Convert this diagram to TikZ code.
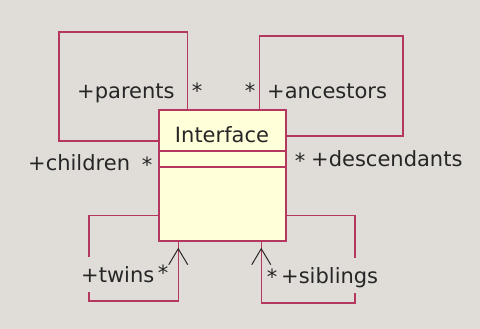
\documentclass[tikz,border=0pt]{standalone}
\usepackage{fontspec}
\setmainfont{DejaVu Sans}
\usetikzlibrary{arrows.meta,calc}
\definecolor{umlback}{RGB}{224,220,215}
\definecolor{umlline}{RGB}{180,55,95}
\definecolor{umlfill}{RGB}{255,255,218}
\definecolor{umlbarb}{RGB}{45,40,40}
\tikzstyle{every node}=[font=\fontsize{21}{25}\selectfont,text=black!85]

\begin{document}
\begin{tikzpicture}[x=1pt,y=-1pt,>={Straight Barb[length=16pt,width=19pt,color=umlbarb,line width=1pt]}]
\tikzset{assoc/.style={draw=umlline,line width=1.5pt},
  role/.style={fill=umlback,inner xsep=2pt,inner ysep=7pt,text height=18pt,text depth=3pt,anchor=base west},
  mult/.style={inner sep=0pt,anchor=base}}

\fill[umlback] (0,0) rectangle (480,329);
\useasboundingbox (0,0) rectangle (480,329);

\node[draw=umlline,fill=umlfill,line width=1.5pt,minimum width=127pt,minimum height=131pt,inner sep=0pt](iface) at (222.5,175.5){};
\node[anchor=base,inner sep=0pt](ifacename) at (222,142.5){Interface};
\draw[assoc] ($(iface.north west)+(0,42)$) -- ($(iface.north east)+(0,42)$);
\draw[assoc] ($(iface.north west)+(0,58)$) -- ($(iface.north east)+(0,58)$);

\draw[assoc] ($(iface.north west)+(29,0)$) |- (59,32) |- ($(iface.north west)+(0,32)$);
\draw[assoc] ($(iface.north west)+(101,0)$) |- (403,36) |- ($(iface.north east)+(0,27)$);
\draw[assoc] ($(iface.north west)+(0,106)$) -| (89,301) -| ($(iface.south west)+(20,0)$);
\draw[assoc] ($(iface.north east)+(0,106)$) -| (355,303) -| ($(iface.south west)+(103,0)$);
\draw[assoc,->] ($(iface.south west)+(20,23)$) -- ($(iface.south west)+(20,6)$);
\draw[assoc,->] ($(iface.south west)+(103,23)$) -- ($(iface.south west)+(103,6)$);

\node[role](parents) at (75,99){+parents};
\node[mult](parentsm) at (197,99){*};
\node[role](children) at (26,171){+children};
\node[mult](childrenm) at (147,172){*};
\node[role](ancestors) at (265,99){+ancestors};
\node[mult](ancestorsm) at (250,99){*};
\node[role](descendants) at (309,167){+descendants};
\node[mult](descendantsm) at (300,168){*};
\node[role](twins) at (79,282){+twins};
\node[mult](twinsm) at (163,280){*};
\node[role](siblings) at (279,283){+siblings};
\node[mult](siblingsm) at (272,284){*};

\end{tikzpicture}
\end{document}
